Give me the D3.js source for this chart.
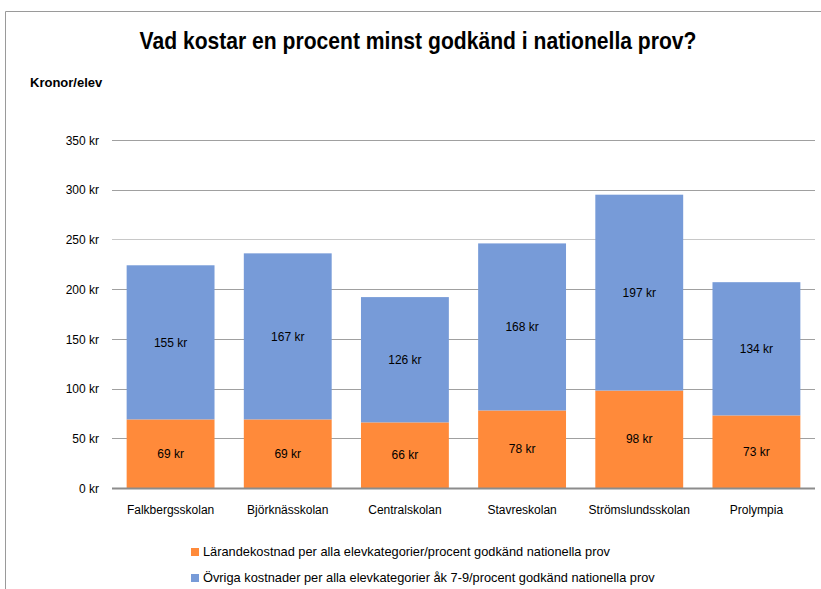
<!DOCTYPE html>
<html><head><meta charset="utf-8">
<script src="https://cdn.jsdelivr.net/npm/d3@7"></script>
<style>body{margin:0;background:#fff;} svg{display:block;}</style>
</head><body>
<svg id="c" width="821" height="589"></svg>
<script>
const categories = ["Falkbergsskolan","Björknässkolan","Centralskolan","Stavreskolan","Strömslundsskolan","Prolympia"];
const larande = [69,69,66,78,98,73];
const ovriga = [155,167,126,168,197,134];
const yTicks = [0,50,100,150,200,250,300,350];
const seriesNames = ["Lärandekostnad per alla elevkategorier/procent godkänd nationella prov","Övriga kostnader per alla elevkategorier åk 7-9/procent godkänd nationella prov"];
const colors = ["#FF8A3A","#779BD8"];

const font = "'Liberation Sans',Arial,sans-serif";
const svg = d3.select("#c");
svg.append("rect").attr("width",821).attr("height",589).attr("fill","#fff");
svg.append("path").attr("d","M5.5,589 L5.5,11.5 L821,11.5").attr("fill","none").attr("stroke","#9a9a9a").attr("stroke-width",1);

const x = d3.scaleBand().domain(categories).range([112,815]).paddingInner(0.25).paddingOuter(0.125);
const y = d3.scaleLinear().domain([0,350]).range([488,140]);

svg.append("text").attr("x",418).attr("y",49).attr("text-anchor","middle")
  .attr("font-family",font).attr("font-weight","bold").attr("font-size",24).attr("fill","#000")
  .attr("textLength",557).attr("lengthAdjust","spacingAndGlyphs")
  .text("Vad kostar en procent minst godkänd i nationella prov?");
svg.append("text").attr("x",30).attr("y",87).attr("font-family",font).attr("font-weight","bold")
  .attr("font-size",13).attr("fill","#000").text("Kronor/elev");

const g = svg.append("g");
g.selectAll("line.grid").data(yTicks.filter(d=>d>0)).join("line")
  .attr("x1",112).attr("x2",815).attr("y1",d=>Math.round(y(d))+0.5).attr("y2",d=>Math.round(y(d))+0.5)
  .attr("stroke",d=>d===250?"#c8c8c8":"#a0a0a0").attr("stroke-width",1);

const yAxis = d3.axisLeft(y).tickValues(yTicks).tickSize(0).tickPadding(0).tickFormat(d=>d+" kr");
const ya = svg.append("g").attr("transform","translate(99,0)").call(yAxis);
ya.select(".domain").remove();
ya.selectAll("text").attr("font-family",font).attr("font-size",12).attr("fill","#000").attr("dy","0.35em");

const stacked = categories.map((c,i)=>({c, v:[larande[i],ovriga[i]]}));
stacked.forEach(d=>{
  let base=0;
  d.v.forEach((v,k)=>{
    const y0=y(base), y1=y(base+v);
    g.append("rect").attr("x",x(d.c)).attr("width",x.bandwidth()).attr("y",y1).attr("height",y0-y1).attr("fill",colors[k]);
    g.append("text").attr("x",x(d.c)+x.bandwidth()/2).attr("y",(y0+y1)/2).attr("dy","0.35em")
      .attr("text-anchor","middle").attr("font-family",font).attr("font-size",12).attr("fill","#000").text(v+" kr");
    base+=v;
  });
});

svg.append("line").attr("x1",112).attr("x2",815).attr("y1",488.5).attr("y2",488.5).attr("stroke","#8c8c8c").attr("stroke-width",2);

const xAxis = d3.axisBottom(x).tickSize(0).tickPadding(0);
const xa = svg.append("g").attr("transform","translate(0,510)").call(xAxis);
xa.select(".domain").remove();
xa.selectAll("text").attr("font-family",font).attr("font-size",12).attr("fill","#000").attr("dy","0.35em");

const leg = svg.append("g");
seriesNames.forEach((n,i)=>{
  const ly = 552 + i*26;
  leg.append("rect").attr("x",191).attr("y",ly-4).attr("width",8).attr("height",8).attr("fill",colors[i]);
  leg.append("text").attr("x",203).attr("y",ly).attr("dy","0.35em").attr("font-family",font)
    .attr("font-size",12.8).attr("fill","#000").text(n);
});
</script>
</body></html>
